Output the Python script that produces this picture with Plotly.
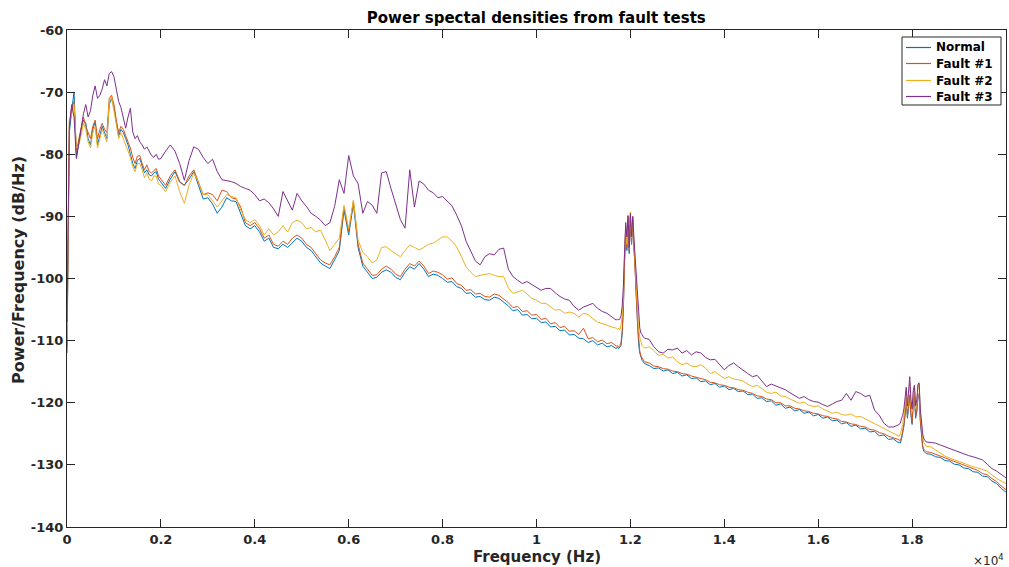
import plotly.graph_objects as go

# Frequency grid (Hz)
freq = (list(range(0, 2000, 50)) + list(range(2000, 11701, 100)) + list(range(11725, 12301, 25))
        + list(range(12400, 17701, 100)) + list(range(17725, 18301, 25)) + list(range(18400, 20001, 100)))

normal = [
    -112, -76.5, -73, -70, -80.5, -78, -76, -74.5, -75, -77.5, -78.5, -76, -74.8, -78.5, -77, -75.5, -76.5, -77.5, -72, -71,
    -72.5, -75, -77, -76, -76.5, -77.5, -78.5, -80, -81.5, -82.3, -81, -80.7, -82, -83, -82.5, -83.3, -83.5, -83, -82.8, -84,
    -84.5, -85.5, -84, -82.8, -84.5, -85, -84, -82.8, -85, -87.2,
    -87, -88, -89.5, -88.5, -87, -87.5, -87.6, -89.5, -91.5, -92,
    -91.5, -92.5, -94, -93.5, -95, -95.2, -94.5, -95, -94.2, -93.5,
    -94, -95, -95.5, -96.5, -97.5, -98, -98.4, -97, -95.5, -89,
    -93, -88, -95, -98, -99, -100, -99.8, -99, -98.6, -99,
    -99.8, -100.2, -99, -98.1, -98.5, -97.6, -98.5, -99.7, -99.3, -99.5,
    -100.0, -100.6, -100.5, -101.3, -101.6, -102.4, -102.3, -103.0, -102.9, -103.4,
    -103.5, -103.0, -103.2, -103.8, -104.4, -105.2, -105.0, -105.9, -105.8, -106.5,
    -106.4, -107.1, -107.0, -107.8, -107.7, -108.4, -108.3, -109.1, -109.0, -109.6,
    -109.7, -110.3, -110.0, -110.7, -110.4, -111.0, -110.8, -111.3,
    -111.0, -111.3, -111.0, -110.8, -109, -105, -97, -92, -95.5, -90.5, -96, -90, -94.5, -90.5, -95, -98, -103, -107.5,
    -110.5, -112, -112.8, -113.2, -113.4, -113.7,
    -114.0, -114.5, -114.4, -114.9, -114.7, -115.3, -115.1, -115.7, -115.5, -116.1,
    -116.0, -116.6, -116.5, -117.1, -116.9, -117.5, -117.3, -117.9, -117.7, -118.2,
    -118.1, -118.7, -118.6, -119.3, -119.2, -119.8, -119.7, -120.4, -120.2, -120.9,
    -120.7, -121.3, -121.1, -121.7, -121.5, -122.1, -121.9, -122.5, -122.3, -122.9,
    -122.8, -123.4, -123.2, -123.8, -123.6, -124.2, -124.1, -124.7, -124.6, -125.3,
    -125.2, -125.9, -125.8, -126.4,
    -126.3, -126.5, -125.8, -125.0, -123.8, -122, -119.5, -122.5, -120.5, -119, -122, -123.5, -120, -119, -122.5, -121.5,
    -119, -118.8, -123, -125.8, -127.2, -127.8, -128.0, -128.2,
    -128.3, -128.7, -128.8, -129.3, -129.4, -129.9, -130.0, -130.5, -130.6, -131.1, -131.2, -131.8, -131.9, -132.6,
    -133.0, -133.8, -134.4,
]

fault1 = [
    -111, -75, -72.5, -71.5, -79.5, -77.5, -75.5, -74, -75.5, -76.5, -77.5, -75.5, -74.5, -77.5, -76, -75, -76, -76.5, -71, -70.5,
    -72, -74.5, -76.5, -75.5, -76, -77, -78, -79, -80.5, -81.5, -80.3, -80.2, -81.5, -82.5, -81.7, -82.8, -83, -82.6, -82.3, -83.5,
    -84, -85, -83.5, -82.5, -84.4, -85, -83.5, -82.5, -84.5, -86.5,
    -86.2, -86.5, -87.5, -85.8, -86, -87, -87.2, -88.5, -91, -91.5,
    -91, -92, -93.5, -93, -94.5, -94.8, -94, -94.5, -93.5, -93,
    -93.5, -94.5, -95, -96, -97, -97.5, -97.8, -96.5, -95, -88.5,
    -92.5, -87.5, -94.5, -97.5, -98.5, -99.5, -99.4, -98.5, -98, -98.5,
    -99.3, -99.7, -98.5, -97.6, -98, -97.2, -98, -99.2, -98.8, -99,
    -99.4, -100.1, -99.9, -100.8, -101.1, -101.9, -101.8, -102.5, -102.4, -102.9,
    -103.0, -102.5, -102.7, -103.3, -103.9, -104.7, -104.5, -105.3, -105.2, -105.9,
    -105.8, -106.6, -106.4, -107.3, -107.1, -107.9, -107.7, -108.5, -108.4, -109.0,
    -108.0, -109.7, -109.5, -110.2, -109.9, -110.5, -110.3, -110.9,
    -110.8, -111.0, -110.8, -110.3, -108.5, -104.5, -97, -92, -95, -90.3, -95.5, -90, -94.5, -90.5, -95, -98, -102.5, -107,
    -110, -111.7, -112.5, -112.9, -113.1, -113.4,
    -113.6, -114.1, -114.2, -114.5, -114.6, -114.9, -115.0, -115.3, -115.4, -115.7,
    -115.9, -116.2, -116.3, -116.7, -116.8, -117.1, -117.2, -117.5, -117.6, -117.9,
    -118.0, -118.3, -118.5, -118.9, -119.0, -119.4, -119.5, -120.0, -120.0, -120.5,
    -120.5, -120.9, -121.0, -121.3, -121.4, -121.7, -121.8, -122.1, -122.2, -122.5,
    -122.6, -123.0, -123.1, -123.4, -123.5, -123.8, -123.9, -124.3, -124.4, -124.8,
    -125.0, -125.4, -125.6, -125.9,
    -126.0, -126.1, -125.5, -124.7, -123.5, -121.7, -119.2, -122.2, -120.2, -118.7, -121.7, -123.2, -119.7, -118.7, -122.2,
    -121.2, -118.7, -118.5, -122.7, -125.5, -126.9, -127.5, -127.7, -127.9,
    -128.0, -128.3, -128.5, -128.9, -129.1, -129.5, -129.7, -130.1, -130.3, -130.7, -130.9, -131.4, -131.6, -132.2,
    -132.7, -133.4, -134.0,
]

fault2 = [
    -110, -74.5, -73.5, -72, -79, -78.5, -77, -75, -76, -78, -79, -76.5, -75.5, -79, -77.5, -76, -77, -78, -71.5, -70.8,
    -73, -75.5, -77.5, -76.5, -77.5, -78.5, -79.5, -80.5, -82, -82.8, -81.5, -81.5, -82.5, -83.8, -83, -84, -84.3, -83.5, -83.5, -84.8,
    -85, -86, -84.5, -83.5, -86, -87.9, -85, -83, -84.5, -86.5,
    -86.5, -87.5, -88.5, -87.5, -86.5, -86.8, -87, -89, -90.5, -91,
    -90.5, -91.5, -93, -92, -93, -92.5, -91.5, -92.5, -91, -90.6,
    -91, -92, -91.8, -92.5, -92.2, -93.8, -95.5, -94.5, -93.5, -88.2,
    -92, -87.4, -93.8, -95.8, -96.5, -97.5, -97, -95, -94.9, -95.5,
    -96, -96.5, -95.5, -94.6, -95, -95.4, -95, -94.5, -94.3, -93.8,
    -93.3, -93.3, -94, -94.9, -96.5, -98.1, -99, -99.7, -99.5, -99.3,
    -99.2, -99.5, -99.7, -99.7, -101.5, -102.4, -102.2, -101.9, -102.5, -103.2,
    -103.5, -104.0, -104.0, -104.6, -105.1, -105.0, -105.6, -105.4, -105.6, -106.2,
    -105.6, -105.8, -106.5, -107.0, -107.2, -107.5, -107.8, -108.0,
    -108.2, -108.0, -108.3, -107.5, -106, -103, -96, -91.5, -94.5, -89.8, -94, -89.3, -93.5, -90, -94, -97.5, -101.5, -105.5,
    -108, -109.5, -110.2, -110.8, -111.0, -111.2,
    -111.0, -111.6, -112.4, -112.2, -112.8, -112.6, -113.4, -113.9, -113.6, -114.1,
    -114.2, -113.9, -114.4, -115.3, -115.0, -115.5, -116.1, -115.8, -116.2, -116.3,
    -116.5, -117.0, -117.4, -117.2, -117.8, -118.3, -118.5, -118.3, -118.9, -119.0,
    -119.4, -119.8, -120.1, -119.9, -120.4, -120.6, -120.5, -121.0, -121.3, -121.7,
    -121.5, -121.9, -122.0, -121.8, -122.3, -122.2, -122.6, -123.0, -123.3, -123.7,
    -124.1, -124.6, -125.0, -125.4,
    -125.4, -125.0, -124.3, -123.5, -122.0, -120.5, -118.0, -121, -119, -116.8, -120, -121.5, -118.5, -117.2, -121, -120,
    -117.5, -117.0, -121.5, -124.0, -125.5, -126.4, -126.8, -127.0,
    -127.1, -127.6, -128.1, -128.6, -128.9, -129.2, -129.5, -129.7, -130.0, -130.3, -130.5, -130.7, -131.0, -131.6,
    -132.2, -132.6, -133.0,
]

fault3 = [
    -107, -75.5, -72, -74, -80.7, -78, -76, -73.5, -72, -74, -73, -70.5, -69, -71, -70.5, -69.5, -68, -69, -67, -66.7,
    -67.5, -69.5, -71.5, -72.5, -74, -75.8, -74, -72.6, -76.4, -77.5, -77, -78, -78.5, -79.2, -78.8, -79.5, -80.2, -80.5, -80, -80.8,
    -80.7, -79.5, -78.5, -79.5, -81.5, -84.2, -81, -78.8, -79.2, -80.5,
    -81.5, -80.8, -82.8, -84.1, -84.2, -84.4, -84.7, -85.2, -85.5, -85.8,
    -86.5, -87.5, -87.2, -87.8, -88.8, -90.0, -86.0, -87.5, -89.0, -86.3,
    -87.5, -88.4, -89.5, -90.0, -90.6, -91.5, -91.0, -88.4, -84.1, -86.3,
    -80.2, -83.5, -84.7, -89.5, -87.6, -88.2, -89.5, -83.0, -82.8, -85.5,
    -88, -90.5, -91.9, -82.5, -88.5, -84.3, -84.8, -85.8, -86.2, -87.0,
    -86.8, -87.6, -88.3, -89.8, -91.5, -94.0, -95.5, -97.2, -97.8, -96.5,
    -96.0, -96.2, -95.3, -95.1, -98.5, -99.7, -100.3, -100.8, -100.5, -101.0,
    -101.4, -101.9, -101.6, -101.6, -102.3, -102.9, -103.3, -103.5, -104.5, -105.1,
    -104.6, -104.3, -104.0, -104.8, -105.3, -105.6, -106.2, -106.7,
    -106.5, -106.7, -106.5, -106.0, -104.5, -101.3, -96, -91, -93.3, -89.9, -95, -89.5, -93.3, -90.0, -93.5, -96.5, -100,
    -103.5, -106.5, -108.0, -108.8, -109.0, -109.4, -109.6,
    -109.8, -111.0, -111.8, -112.0, -111.4, -111.5, -111.2, -112.0, -111.6, -112.3,
    -111.8, -112.0, -112.7, -113.1, -113.0, -113.8, -114.7, -114.0, -113.6, -114.2,
    -114.8, -115.3, -115.8, -115.6, -116.5, -117.4, -117.0, -117.3, -117.7, -117.9,
    -118.4, -118.9, -119.3, -119.0, -119.5, -119.8, -119.9, -120.3, -120.6, -120.2,
    -119.8, -119.6, -118.5, -119.6, -118.2, -118.5, -119.0, -118.8, -121.2, -122.0,
    -123.3, -123.9, -123.9, -123.6,
    -123.5, -123.3, -122.5, -122.0, -121.0, -119.5, -117.5, -120.5, -118.5, -115.8, -119.5, -121, -118, -117.2, -120.5,
    -119.5, -117, -116.8, -121, -123.5, -125.0, -125.8, -126.1, -126.3,
    -126.4, -126.5, -126.8, -127.1, -127.3, -127.6, -127.9, -128.2, -128.5, -128.7, -129.0, -129.2, -129.9, -130.6,
    -131.0, -131.6, -132.1,
]

series_names = ["Normal", "Fault #1", "Fault #2", "Fault #3"]
series_values = [normal, fault1, fault2, fault3]
series_colors = ["#0072BD", "#D95319", "#EDB120", "#7E2F8E"]

x_tick_vals = [0, 2000, 4000, 6000, 8000, 10000, 12000, 14000, 16000, 18000, 20000]
x_tick_text = ["0", "0.2", "0.4", "0.6", "0.8", "1", "1.2", "1.4", "1.6", "1.8", "2"]
y_tick_vals = [-140, -130, -120, -110, -100, -90, -80, -70, -60]
y_tick_text = ["-140", "-130", "-120", "-110", "-100", "-90", "-80", "-70", "-60"]

for vals in series_values:
    assert len(vals) == len(freq), (len(vals), len(freq))

fig = go.Figure()
for name, vals, col in zip(series_names, series_values, series_colors):
    fig.add_trace(go.Scatter(x=freq, y=vals, mode="lines", name=name,
                             line=dict(color=col, width=1), showlegend=False))

axcol = "#262626"
tickfont = dict(family="DejaVu Sans", size=13, color=axcol, weight="bold")

fig.update_layout(
    width=1009, height=567, autosize=False,
    margin=dict(l=67, r=3, t=30, b=40),
    paper_bgcolor="white", plot_bgcolor="white",
    title=dict(text="Power spectal densities from fault tests", x=0.5315, xanchor="center",
               y=1 - 18 / 567, yanchor="middle", yref="container",
               font=dict(family="DejaVu Sans", size=15, color="black", weight="bold")),
    showlegend=False,
)

fig.update_xaxes(range=[0, 20000], tickvals=x_tick_vals, ticktext=x_tick_text,
                 ticks="inside", ticklen=8, tickcolor=axcol, tickwidth=1,
                 showline=True, linecolor=axcol, linewidth=1, mirror="ticks",
                 showgrid=False, zeroline=False, tickfont=tickfont)
fig.update_yaxes(range=[-140, -60], tickvals=y_tick_vals, ticktext=y_tick_text,
                 ticks="inside", ticklen=8, tickcolor=axcol, tickwidth=1,
                 showline=True, linecolor=axcol, linewidth=1, mirror="ticks",
                 showgrid=False, zeroline=False, tickfont=tickfont)

# Pixel -> paper helpers for the plot area (67..1006 x, 30..527 y)
def px(xp):
    return (xp - 67) / 939

def py(yp):
    return (527 - yp) / 497

fig.add_annotation(text="Frequency (Hz)", xref="paper", yref="paper", x=0.5, y=py(557),
                   xanchor="center", yanchor="middle", showarrow=False,
                   font=dict(family="DejaVu Sans", size=15, color=axcol, weight="bold"))
fig.add_annotation(text="Power/Frequency (dB/Hz)", xref="paper", yref="paper",
                   x=px(18), y=py(270), textangle=-90,
                   xanchor="center", yanchor="middle", showarrow=False,
                   font=dict(family="DejaVu Sans", size=16, color=axcol, weight="bold"))
fig.add_annotation(text="×10<sup>4</sup>", xref="paper", yref="paper",
                   x=1.0, y=py(560), xanchor="right", yanchor="middle", showarrow=False,
                   font=dict(family="DejaVu Sans", size=12, color=axcol))

# Legend box drawn manually to match compact MATLAB legend
fig.add_shape(type="rect", xref="paper", yref="paper", x0=px(902), x1=px(1001), y0=py(105), y1=py(37),
              line=dict(color=axcol, width=1), fillcolor="white", layer="above")
row_y = [47.5, 63.5, 80.5, 96.5]
for name, col, ry in zip(series_names, series_colors, row_y):
    fig.add_shape(type="line", xref="paper", yref="paper", x0=px(906), x1=px(931), y0=py(ry), y1=py(ry),
                  line=dict(color=col, width=1.2), layer="above")
    fig.add_annotation(text=name, xref="paper", yref="paper", x=px(934), y=py(ry),
                       xanchor="left", yanchor="middle", showarrow=False,
                       font=dict(family="DejaVu Sans", size=12, color="black", weight="bold"))

fig.write_html("out.html")
